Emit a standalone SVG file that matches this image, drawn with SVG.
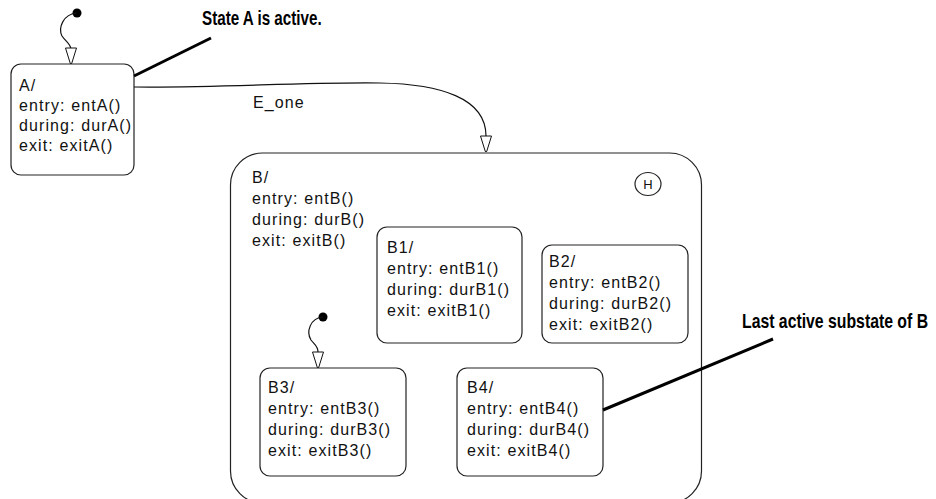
<svg xmlns="http://www.w3.org/2000/svg" width="936" height="499" viewBox="0 0 936 499">
<style>
.st{fill:#fff;stroke:#222;stroke-width:1.2}
.t{font-family:"Liberation Sans",Arial,sans-serif;font-size:16px;letter-spacing:1.1px;fill:#111}
.c{fill:none;stroke:#111;stroke-width:1.2}
.call{fill:none;stroke:#000;stroke-width:3}
.ct{font-family:"Liberation Sans",Arial,sans-serif;font-weight:bold;font-size:20px;fill:#000}
.dot{fill:#000}
</style>
<defs>
<marker id="arr" markerUnits="userSpaceOnUse" markerWidth="20" markerHeight="14" viewBox="0 -7 17 14" refX="16.5" refY="0" orient="auto">
<path d="M0.5,-5.5 L16,-0.7 L16,0.7 L0.5,5.5 Z" fill="#fff" stroke="#111" stroke-width="1"/>
</marker>
</defs>
<rect width="936" height="499" fill="#fff"/>

<g id="stateB">
<rect class="st" x="230.5" y="153" width="471" height="350" rx="32"/>
<text class="t" x="252" y="183">B/</text>
<text class="t" x="252" y="204">entry: entB()</text>
<text class="t" x="252" y="225">during: durB()</text>
<text class="t" x="252" y="246">exit: exitB()</text>
</g>
<g id="history">
<ellipse cx="648" cy="184" rx="13" ry="11.5" fill="#fff" stroke="#222" stroke-width="1.2"/>
<text x="648" y="189" text-anchor="middle" font-family="Liberation Sans,Arial,sans-serif" font-size="13" fill="#111">H</text>
</g>
<g id="stateA">
<rect class="st" x="11" y="64" width="123" height="111" rx="10"/>
<text class="t" x="19" y="91">A/</text>
<text class="t" x="19" y="111">entry: entA()</text>
<text class="t" x="19" y="131">during: durA()</text>
<text class="t" x="19" y="151">exit: exitA()</text>
</g>
<g id="stateB1">
<rect class="st" x="377" y="227" width="145" height="116" rx="10"/>
<text class="t" x="387" y="253">B1/</text>
<text class="t" x="387" y="274">entry: entB1()</text>
<text class="t" x="387" y="295">during: durB1()</text>
<text class="t" x="387" y="316">exit: exitB1()</text>
</g>
<g id="stateB2">
<rect class="st" x="542" y="245" width="146" height="98" rx="10"/>
<text class="t" x="549" y="267">B2/</text>
<text class="t" x="549" y="288">entry: entB2()</text>
<text class="t" x="549" y="309">during: durB2()</text>
<text class="t" x="549" y="330">exit: exitB2()</text>
</g>
<g id="stateB3">
<rect class="st" x="260" y="368" width="146" height="108" rx="10"/>
<text class="t" x="268" y="393">B3/</text>
<text class="t" x="268" y="414">entry: entB3()</text>
<text class="t" x="268" y="435">during: durB3()</text>
<text class="t" x="268" y="456">exit: exitB3()</text>
</g>
<g id="stateB4">
<rect class="st" x="457" y="368" width="146" height="108" rx="10"/>
<text class="t" x="467" y="393">B4/</text>
<text class="t" x="467" y="414">entry: entB4()</text>
<text class="t" x="467" y="435">during: durB4()</text>
<text class="t" x="467" y="456">exit: exitB4()</text>
</g>

<g id="connectors">
<circle class="dot" cx="77" cy="13" r="4.5"/>
<path class="c" d="M77,13 C63,14 58,28 62,36 C66,42 71,44 71,50 L71,64" marker-end="url(#arr)"/>
<path class="c" d="M134,87 C220,88 300,82 380,83 C440,84 486,98 486,136 L486,152" marker-end="url(#arr)"/>
<text class="t" x="253" y="108">E_one</text>
<circle class="dot" cx="323" cy="317" r="4.5"/>
<path class="c" d="M323,317 C310,318 306,332 311,340 C315,345 318,346 318,352 L318,368" marker-end="url(#arr)"/>
</g>

<g id="callouts">
<text class="ct" transform="translate(202,25) scale(0.76,1)">State A is active.</text>
<line class="call" x1="211" y1="38" x2="134" y2="76"/>
<text class="ct" transform="translate(742,328) scale(0.79,1)">Last active substate of B</text>
<line class="call" x1="773" y1="339" x2="603" y2="410"/>
</g>
</svg>
